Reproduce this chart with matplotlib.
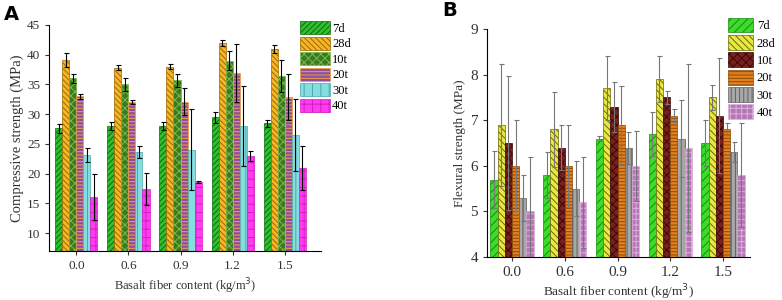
import numpy as np
import matplotlib
matplotlib.use("Agg")
import matplotlib.pyplot as plt
from matplotlib.patches import Patch

plt.rcParams['font.family'] = ['Liberation Serif', 'DejaVu Serif']
plt.rcParams['hatch.linewidth'] = 0.7

contents = ['0.0', '0.6', '0.9', '1.2', '1.5']
ages = ['7d', '28d', '10t', '20t', '30t', '40t']

# compressive strength (MPa), rows = ages, cols = fiber content
comp = [
    [27.6, 28.0, 28.0, 29.5, 28.5],
    [39.1, 37.8, 38.0, 42.0, 40.9],
    [36.0, 35.0, 35.7, 39.0, 36.4],
    [33.0, 32.0, 32.1, 36.9, 32.9],
    [23.2, 23.6, 24.0, 28.0, 26.5],
    [16.1, 17.5, 18.6, 23.0, 21.0],
]
comp_err = [
    [0.8, 0.7, 0.7, 0.9, 0.6],
    [1.2, 0.4, 0.4, 0.5, 0.7],
    [0.8, 1.1, 1.1, 1.6, 2.7],
    [0.4, 0.3, 2.3, 4.9, 3.9],
    [1.2, 1.0, 6.8, 6.7, 6.0],
    [3.9, 2.7, 0.2, 0.8, 3.7],
]

# flexural strength (MPa)
flex = [
    [5.7, 5.8, 6.6, 6.7, 6.5],
    [6.9, 6.8, 7.7, 7.9, 7.5],
    [6.5, 6.4, 7.3, 7.5, 7.1],
    [6.0, 6.0, 6.9, 7.1, 6.8],
    [5.3, 5.5, 6.4, 6.6, 6.3],
    [5.0, 5.2, 6.0, 6.4, 5.8],
]
flex_err = [
    [0.63, 0.50, 0.06, 0.49, 0.50],
    [1.33, 0.83, 0.70, 0.50, 0.28],
    [1.47, 0.50, 0.55, 0.14, 1.26],
    [1.00, 0.90, 0.85, 0.14, 0.13],
    [0.50, 0.60, 0.35, 0.84, 0.22],
    [1.20, 1.00, 0.77, 1.84, 1.13],
]

# face, hatch colour, hatch pattern
style_a = [
    ('#2fc02f', '#0f6a0f', '//////'),
    ('#f7b52a', '#9a6a00', '\\\\\\\\\\\\'),
    ('#3a7a22', '#7ab84a', 'xxxx'),
    ('#8e4fa0', '#f0a040', '-----'),
    ('#86dde0', '#4aa8ac', '||'),
    ('#ff3af0', '#d020c0', '++'),
]
style_b = [
    ('#3bdc2a', '#1a8a10', '////'),
    ('#e8e840', '#6a6a10', '\\\\\\\\\\'),
    ('#7a1f1f', '#3a0a0a', 'xxxx'),
    ('#e4801e', '#8a4a08', '-----'),
    ('#a8a8a8', '#606060', '||||'),
    ('#b476b4', '#e0b0e0', '+++'),
]

fig = plt.figure(figsize=(7.82, 3.0), dpi=100)

def panel(ax, vals, errs, styles, ecol, w):
    x = np.arange(len(contents))
    for i in range(len(ages)):
        face, hc, hatch = styles[i]
        ax.bar(x + (i - 2.5) * w, vals[i], w, color=face, edgecolor=hc,
               hatch=hatch, linewidth=0.5, zorder=2)
        ax.errorbar(x + (i - 2.5) * w, vals[i], yerr=errs[i], fmt='none',
                    ecolor=ecol, elinewidth=0.8, capsize=1.8, capthick=0.8, zorder=3)
    ax.set_xticks(x)
    ax.set_xticklabels(contents)
    ax.spines['top'].set_visible(False)
    ax.spines['right'].set_visible(False)
    ax.tick_params(direction='out', length=3, width=0.8)
    handles = [Patch(facecolor=s[0], edgecolor=s[1], hatch=s[2], linewidth=0.5)
               for s in styles]
    return handles

# panel A
axa = fig.add_axes([0.063, 0.163, 0.347, 0.754])
h = panel(axa, comp, comp_err, style_a, 'black', 0.135)
axa.set_xlim(-0.52, 4.69)
axa.set_ylim(7, 45)
axa.set_yticks(range(10, 46, 5))
axa.tick_params(labelsize=9.5, colors='#333333')
axa.set_ylabel('Compressive strength (MPa)', fontsize=10.5, color='#333333', labelpad=2)
axa.set_xlabel('Basalt fiber content (kg/m$^3$)', fontsize=9, color='#333333', labelpad=3)
fig.legend(h, ages, loc='upper left', bbox_to_anchor=(0.375, 0.95), frameon=False,
           fontsize=9, handlelength=2.4, handleheight=1.2, labelspacing=0.15,
           handletextpad=0.2, borderpad=0)
fig.text(0.005, 0.935, 'A', fontsize=14, fontweight='bold', family='DejaVu Sans')

# panel B
axb = fig.add_axes([0.623, 0.143, 0.336, 0.76])
h = panel(axb, flex, flex_err, style_b, '#777777', 0.137)
axb.set_xlim(-0.47, 4.51)
axb.set_ylim(4, 9)
axb.set_yticks(range(4, 10))
axb.tick_params(labelsize=11, colors='#333333')
axb.set_ylabel('Flexural strength (MPa)', fontsize=9.5, color='#333333', labelpad=3)
axb.set_xlabel('Basalt fiber content (kg/m$^3$)', fontsize=9.5, color='#333333', labelpad=2)
fig.legend(h, ages, loc='upper left', bbox_to_anchor=(0.923, 0.962), frameon=False,
           fontsize=9, handlelength=2.0, handleheight=1.45, labelspacing=0.2,
           handletextpad=0.3, borderpad=0)
fig.text(0.565, 0.945, 'B', fontsize=14, fontweight='bold', family='DejaVu Sans')

fig.savefig('out.png', dpi=100)
